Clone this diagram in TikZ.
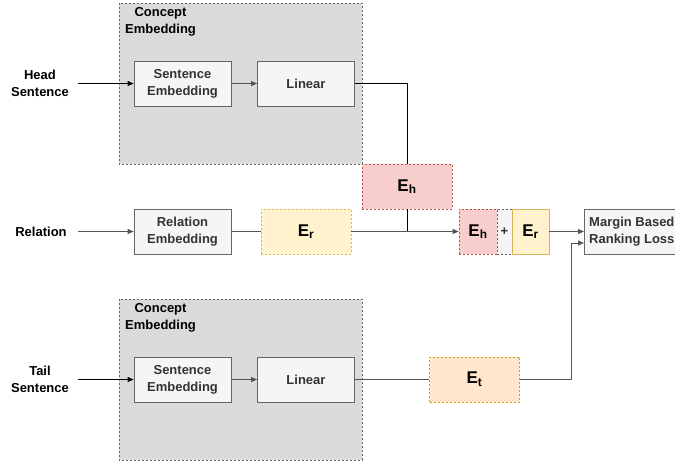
\documentclass[tikz,border=0pt]{standalone}
\usepackage{fontspec}
\setmainfont{Liberation Sans}
\usetikzlibrary{arrows.meta}
\definecolor{contfill}{HTML}{DADADA}
\definecolor{contline}{HTML}{666666}
\definecolor{boxfill}{HTML}{F5F5F5}
\definecolor{boxline}{HTML}{666666}
\definecolor{txt}{HTML}{333333}
\definecolor{redfill}{HTML}{F8CECC}
\definecolor{redline}{HTML}{B85450}
\definecolor{yelfill}{HTML}{FFF2CC}
\definecolor{yelline}{HTML}{D6B656}
\definecolor{orafill}{HTML}{FFE6CC}
\definecolor{oraline}{HTML}{D79B00}
\definecolor{wire}{HTML}{555555}
\tikzset{
  container/.style={draw=contline, fill=contfill, dashed, dash pattern=on 2pt off 2pt, line width=0.6pt},
  ctitle/.style={font=\fontsize{13}{16.5}\selectfont\bfseries, text=black, align=center, inner sep=0pt},
  graybox/.style={draw=boxline, fill=boxfill, line width=0.7pt, minimum width=97pt, minimum height=45pt, inner sep=0pt, align=center, font=\fontsize{13}{17}\selectfont\bfseries, text=txt},
  ebox/.style={line width=0.7pt, dash pattern=on 2pt off 2pt, minimum width=90pt, minimum height=45pt, inner sep=0pt, font=\fontsize{17}{19}\selectfont\bfseries},
  inlabel/.style={font=\fontsize{13}{17}\selectfont\bfseries, align=center, inner sep=0pt},
  wireline/.style={draw=wire, line width=0.8pt},
  arr/.style={wireline, -{Triangle[length=6pt,width=5pt]}},
}
\begin{document}
\begin{tikzpicture}[x=1pt,y=-1pt]
\useasboundingbox[clip] (0,0) rectangle (675,462);
\fill[white] (0,0) rectangle (675,462);
% containers
\draw[container] (119,3) rectangle (362,164);
\node[ctitle] (t1) at (160.5,22) {Concept\\Embedding};
\draw[container] (119,299) rectangle (362,460);
\node[ctitle] (t2) at (160.5,318) {Concept\\Embedding};
% input labels
\node[inlabel] (head) at (40,83.5) {Head\\Sentence};
\node[inlabel] (rel) at (41,231.5) {Relation};
\node[inlabel] (tail) at (40,379.5) {Tail\\Sentence};
% boxes
\node[graybox] (se1) at (182.5,83.5) {Sentence\\Embedding};
\node[graybox] (lin1) at (306,83.5) {Linear};
\node[graybox] (re) at (182.5,231.5) {Relation\\Embedding};
\node[graybox] (se2) at (182.5,379.5) {Sentence\\Embedding};
\node[graybox] (lin2) at (306,379.5) {Linear};
\node[ebox, draw=redline, fill=redfill] (eh) at (407,186.5) {E\textsubscript{h}};
\node[ebox, draw=yelline, fill=yelfill] (er) at (306,231.5) {E\textsubscript{r}};
\node[ebox, draw=oraline, fill=orafill] (et) at (474.5,379.5) {E\textsubscript{t}};
% combined
\node[ebox, draw=redline, fill=redfill, minimum width=38pt] (ceh) at (478,231.5) {E\textsubscript{h}};
\node[ebox, draw=contline, fill=boxfill, minimum width=15pt, font=\fontsize{13}{15}\selectfont\bfseries, text=txt] (cplus) at (504.5,231.5) {+};
\node[ebox, draw=yelline, fill=yelfill, solid, minimum width=37pt] (cer) at (530.5,231.5) {E\textsubscript{r}};
% margin box
\node[draw=boxline, fill=boxfill, line width=0.7pt, minimum width=100pt, minimum height=45pt, anchor=west, inner sep=0pt] (mb) at (584,231.5) {};
\node[anchor=west, font=\fontsize{13}{17}\selectfont\bfseries, text=txt, align=left, inner sep=0pt] (mbt) at (589,231.5) {Margin Based\\Ranking Loss};
% connectors
\draw[arr, draw=black] (head) ++(38,0) coordinate (hs) -- (se1.west);
\draw[arr] (se1) -- (lin1);
\draw[wireline, draw=black] (lin1.east) -| (eh.north);
\draw[arr] (rel) ++(37,0) coordinate (rs) -- (re.west);
\draw[wireline] (re) -- (er);
\coordinate (jn) at (407,231.5);
\draw[wireline, draw=black] (eh.south) -- (jn);
\draw[arr] (er.east) -- (ceh.west);
\draw[arr] (cer.east) -- (mb.west);
\draw[arr, draw=black] (tail) ++(38,0) coordinate (ts) -- (se2.west);
\draw[arr] (se2) -- (lin2);
\draw[wireline] (lin2.east) -- (et.west);
\coordinate (mb2) at (584,243);
\draw[arr] (et.east) -| (571,243) -- (mb2);
\end{tikzpicture}
\end{document}
